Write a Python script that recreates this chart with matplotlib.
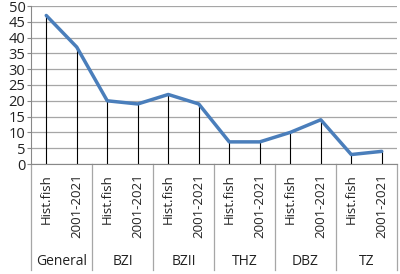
import matplotlib.pyplot as plt

groups = ["General", "BZI", "BZII", "THZ", "DBZ", "TZ"]
periods = ["Hist.fish", "2001-2021"]
values = [47, 37, 20, 19, 22, 19, 7, 7, 10, 14, 3, 4]

plt.rcParams['font.family'] = ['Open Sans', 'DejaVu Sans']

fig = plt.figure(figsize=(4.0, 2.74), dpi=100)
ax = fig.add_axes([31 / 400, 110 / 274, 366 / 400, 158 / 274])

x = list(range(len(values)))
labels = [periods[i % 2] for i in x]

ax.set_xlim(-0.5, len(values) - 0.5)
ax.set_ylim(0, 50)
ax.set_yticks(range(0, 51, 5))
ax.grid(axis='y', color='#a6a6a6', lw=0.9)
ax.set_axisbelow(True)

# drop lines from each point to the axis
ax.vlines(x, 0, values, color='black', lw=0.8, zorder=2)
ax.plot(x, values, color='#4a7ebb', lw=2.5, zorder=3, solid_capstyle='round')

ax.set_xticks(x)
ax.set_xticklabels(labels, rotation=90, va='top', ha='center', fontsize=9.5, color='#222222')
ax.tick_params(axis='x', length=0, pad=7)
ax.tick_params(axis='y', length=3, color='#888888', labelsize=10.5, labelcolor='#222222', pad=1)

for s in ['top', 'right']:
    ax.spines[s].set_visible(False)
for s in ['left', 'bottom']:
    ax.spines[s].set_color('#888888')

trans = ax.get_xaxis_transform()
for k in range(len(groups) + 1):
    xs = 2 * k - 0.5
    ax.plot([xs, xs], [0, -0.67], color='#a6a6a6', lw=0.9, transform=trans, clip_on=False)
for k, g in enumerate(groups):
    ax.text(2 * k + 0.5, -0.62, g, transform=trans, ha='center', va='center',
            fontsize=10, color='#222222')

fig.savefig("out.png", dpi=100, facecolor='white')
